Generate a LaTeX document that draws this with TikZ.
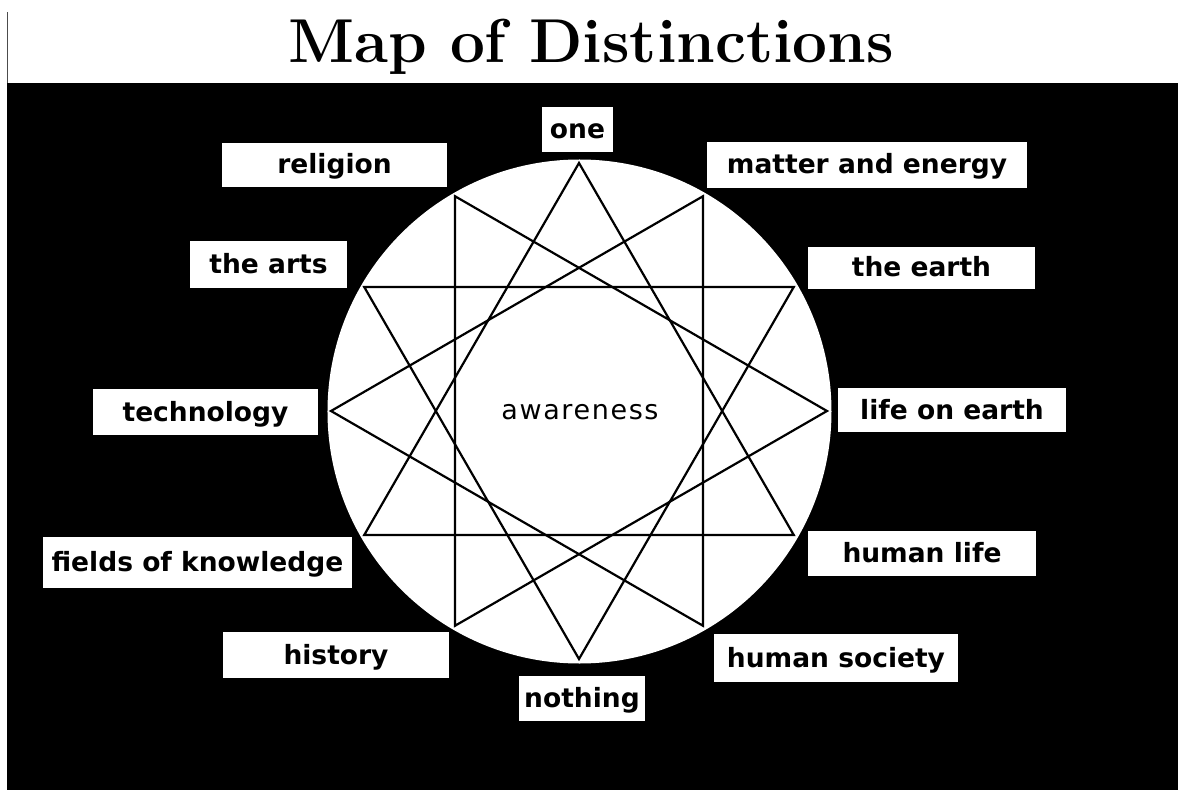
\documentclass[tikz,border=0pt]{standalone}
\usepackage{fontspec}
\newfontfamily\tagfont{DejaVu Sans}
\newfontfamily\awfont{DejaVu Sans}[LetterSpace=6]

\begin{document}
\begin{tikzpicture}[x=1pt,y=1pt,
  tag/.style={fill=white,inner sep=0pt,font=\tagfont\bfseries\fontsize{26.5}{30}\selectfont,
    text height=22pt,text depth=4pt}]
\useasboundingbox (-579,-379) rectangle (599,411);
\fill[white] (-579,-379) rectangle (599,411);
\fill[black] (-572,-379) rectangle (599,328);
\draw[line width=0.8pt,black!70] (-572,328)--(-572,399);
\fill[white] (0.5,-0.5) circle[radius=252];
\draw[line width=2.2pt] ({248*cos(90)},{248*sin(90)})--({248*cos(210)},{248*sin(210)})--({248*cos(330)},{248*sin(330)})--cycle;
\draw[line width=2.2pt] ({248*cos(120)},{248*sin(120)})--({248*cos(240)},{248*sin(240)})--({248*cos(0)},{248*sin(0)})--cycle;
\draw[line width=2.2pt] ({248*cos(150)},{248*sin(150)})--({248*cos(270)},{248*sin(270)})--({248*cos(30)},{248*sin(30)})--cycle;
\draw[line width=2.2pt] ({248*cos(180)},{248*sin(180)})--({248*cos(300)},{248*sin(300)})--({248*cos(60)},{248*sin(60)})--cycle;
\node[anchor=base,font=\fontsize{62}{70}\selectfont\bfseries] (title) at (12,348) {Map of Distinctions};
\node[font=\awfont\fontsize{27}{30}\selectfont] (awareness) at (1,-1) {awareness};
\node[tag,minimum width=71pt,minimum height=45pt] (one) at (-1.5,281.5) {one};
\node[tag,minimum width=225pt,minimum height=44pt] (religion) at (-244.5,246) {religion};
\node[tag,minimum width=320pt,minimum height=46pt] (matter) at (288,246) {matter and energy};
\node[tag,minimum width=157pt,minimum height=47pt] (arts) at (-310.5,146.5) {the arts};
\node[tag,minimum width=227pt,minimum height=42pt] (earth) at (342.5,143) {the earth};
\node[tag,minimum width=225pt,minimum height=46pt] (tech) at (-373.5,-1) {technology};
\node[tag,minimum width=228pt,minimum height=44pt] (life) at (373,1) {life on earth};
\node[tag,minimum width=309pt,minimum height=51pt] (fields) at (-381.5,-151.5) {fields of knowledge};
\node[tag,minimum width=228pt,minimum height=45pt] (human) at (343,-142.5) {human life};
\node[tag,minimum width=226pt,minimum height=46pt] (history) at (-243,-244) {history};
\node[tag,minimum width=244pt,minimum height=48pt] (society) at (257,-247) {human society};
\node[tag,minimum width=126pt,minimum height=45pt] (nothing) at (3,-287.5) {nothing};
\end{tikzpicture}
\end{document}
